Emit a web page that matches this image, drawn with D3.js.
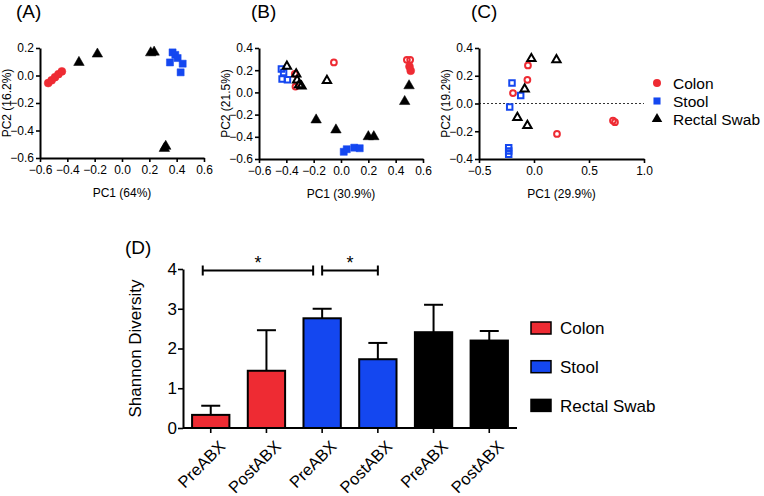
<!DOCTYPE html>
<html><head><meta charset="utf-8">
<script src="https://cdn.jsdelivr.net/npm/d3@7"></script>
<style>
html,body{margin:0;padding:0;background:#fff;}
svg text{font-family:"Liberation Sans",Arial,sans-serif;fill:#000;}
</style></head>
<body><svg id="c" width="764" height="496"></svg>
<script>
// ---------- DATA ----------
const groups = ["Colon", "Stool", "Rectal Swab"];
const groupColors = ["#ee2b33", "#1447f0", "#000000"];

// Panel A (all filled)
const aColon = [[-0.54,-0.055],[-0.515,-0.035],[-0.49,-0.012],[-0.465,0.01],[-0.44,0.03]];
const aStool = [[0.37,0.168],[0.39,0.15],[0.351,0.095],[0.407,0.127],[0.444,0.086],[0.429,0.023]];
const aSwab  = [[-0.315,0.095],[-0.18,0.156],[0.21,0.165],[0.235,0.17],[0.31,-0.53],[0.32,-0.515]];

// Panel B: open (pre) and filled (post)
const bColonOpen   = [[-0.052,0.27],[-0.338,0.168],[-0.333,0.053],[0.482,0.294],[0.506,0.294]];
const bColonFilled = [[0.501,0.234],[0.51,0.195]];
const bStoolOpen   = [[-0.436,0.21],[-0.431,0.12],[-0.392,0.114],[-0.42,0.18]];
const bStoolFilled = [[0.02,-0.535],[0.042,-0.512],[0.097,-0.498],[0.137,-0.503]];
const bSwabOpen    = [[-0.396,0.234],[-0.328,0.165],[-0.321,0.11],[-0.306,0.068],[-0.289,0.056],[-0.103,0.106]];
const bSwabFilled  = [[-0.182,-0.248],[-0.037,-0.338],[0.2,-0.399],[0.24,-0.399],[0.466,-0.082],[0.498,0.06]];

// Panel C (all open)
const cColon = [[-0.055,0.274],[-0.06,0.171],[-0.191,0.075],[0.209,-0.219],[0.718,-0.123],[0.736,-0.135]];
const cStool = [[-0.2,0.147],[-0.121,0.058],[-0.221,-0.026],[-0.23,-0.318],[-0.23,-0.342],[-0.23,-0.366]];
const cSwab  = [[-0.024,0.323],[0.204,0.315],[-0.085,0.104],[-0.151,-0.101],[-0.06,-0.159]];

const pcaTitles = ["(A)", "(B)", "(C)"];
const pcaXLabels = ["PC1 (64%)", "PC1 (30.9%)", "PC1 (29.9%)"];
const pcaYLabels = ["PC2 (16.2%)", "PC2 (21.5%)", "PC2 (19.2%)"];
const xTicksAB = [-0.6,-0.4,-0.2,0.0,0.2,0.4,0.6];
const yTicksA = [0.2,0.0,-0.2,-0.4,-0.6];
const yTicksB = [0.4,0.2,0.0,-0.2,-0.4,-0.6];
const xTicksC = [-0.5,0.0,0.5,1.0];
const yTicksC = [0.4,0.2,0.0,-0.2,-0.4];

// Panel D
const barLabels = ["PreABX","PostABX","PreABX","PostABX","PreABX","PostABX"];
const barGroup  = [0,0,1,1,2,2];
const barMeans  = [0.33,1.44,2.76,1.73,2.41,2.2];
const barErrTop = [0.56,2.46,3.0,2.14,3.1,2.44];
const yTicksD = [0,1,2,3,4];
const sigPairs = [[0,2],[2,3]];
const sigLabels = ["*","*"];

// ---------- DRAW ----------
const svg = d3.select("#c");
const fmt = d3.format(".1f");

function styleAxis(g){
  g.selectAll("path.domain").attr("stroke","#000").attr("stroke-width",2);
  g.selectAll(".tick line").attr("stroke","#000").attr("stroke-width",1.6);
  g.selectAll(".tick text").style("font-family","'Liberation Sans',Arial,sans-serif").attr("fill","#000");
}

function sym(type, filled){
  const size = type===d3.symbolCircle ? (filled?50:26) : type===d3.symbolSquare ? (filled?50:30) : (filled?48:30);
  return d3.symbol().type(type).size(size)();
}
const symTypes = [d3.symbolCircle, d3.symbolSquare, d3.symbolTriangle];

function pcaPanel(cfg){
  const x = d3.scaleLinear().domain(cfg.xd).range([cfg.l, cfg.r]);
  const y = d3.scaleLinear().domain(cfg.yd).range([cfg.b, cfg.t]);
  const g = svg.append("g");
  if(cfg.dash){
    g.append("line").attr("x1",x(cfg.xd[0])).attr("x2",x(cfg.xd[1]))
      .attr("y1",y(0)).attr("y2",y(0)).attr("stroke","#000").attr("stroke-width",0.8)
      .attr("stroke-dasharray","2,2");
  }
  const xa = g.append("g").attr("transform",`translate(0,${cfg.b})`)
    .call(d3.axisBottom(x).tickValues(cfg.xt).tickFormat(fmt).tickSize(4).tickSizeOuter(0).tickPadding(2));
  const ya = g.append("g").attr("transform",`translate(${cfg.l},0)`)
    .call(d3.axisLeft(y).tickValues(cfg.yt).tickFormat(fmt).tickSize(4).tickSizeOuter(0).tickPadding(2));
  [xa,ya].forEach(a=>{styleAxis(a); a.selectAll(".tick text").attr("font-size",12);});
  xa.selectAll(".tick text").attr("dy","0.85em");
  // series
  cfg.series.forEach(s=>{
    g.selectAll(null).data(s.pts).enter().append("path")
      .attr("d", sym(symTypes[s.g], s.filled))
      .attr("transform", d=>`translate(${x(d[0])},${y(d[1])})`)
      .attr("fill", s.filled ? groupColors[s.g] : "#fff")
      .attr("fill-opacity", s.filled?1:0)
      .attr("stroke", groupColors[s.g])
      .attr("stroke-width", s.filled?0.5:2);
  });
  g.append("text").attr("x",(cfg.l+cfg.r)/2).attr("y",cfg.b+39).attr("text-anchor","middle")
    .attr("font-size",12).text(cfg.xl);
  g.append("text").attr("transform",`translate(${cfg.yx},${(cfg.t+cfg.b)/2}) rotate(-90)`)
    .attr("text-anchor","middle").attr("font-size",12).text(cfg.yl);
  g.append("text").attr("x",cfg.tx).attr("y",18).attr("font-size",19).text(cfg.title);
}

pcaPanel({l:40,r:204,t:48,b:158,xd:[-0.6,0.6],yd:[-0.6,0.2],xt:xTicksAB,yt:yTicksA,
  xl:pcaXLabels[0],yl:pcaYLabels[0],yx:11,tx:16,title:pcaTitles[0],
  series:[{pts:aColon,g:0,filled:true},{pts:aStool,g:1,filled:true},{pts:aSwab,g:2,filled:true}]});
pcaPanel({l:259,r:423,t:48,b:159,xd:[-0.6,0.6],yd:[-0.6,0.4],xt:xTicksAB,yt:yTicksB,
  xl:pcaXLabels[1],yl:pcaYLabels[1],yx:230,tx:251,title:pcaTitles[1],
  series:[{pts:bColonOpen,g:0,filled:false},{pts:bColonFilled,g:0,filled:true},
          {pts:bStoolOpen,g:1,filled:false},{pts:bStoolFilled,g:1,filled:true},
          {pts:bSwabOpen,g:2,filled:false},{pts:bSwabFilled,g:2,filled:true}]});
pcaPanel({l:479,r:644,t:48,b:159,xd:[-0.5,1.0],yd:[-0.4,0.4],xt:xTicksC,yt:yTicksC,dash:true,
  xl:pcaXLabels[2],yl:pcaYLabels[2],yx:450,tx:471,title:pcaTitles[2],
  series:[{pts:cColon,g:0,filled:false},{pts:cStool,g:1,filled:false},{pts:cSwab,g:2,filled:false}]});

// legend for scatter
const lg = svg.append("g");
groups.forEach((name,i)=>{
  lg.append("path").attr("d", sym(symTypes[i], true))
    .attr("transform",`translate(657,${83+i*18})`).attr("fill",groupColors[i]);
  lg.append("text").attr("x",673).attr("y",83+i*18).attr("dy","0.36em")
    .attr("font-size",15.5).text(name);
});

// ---------- Panel D ----------
const xD = d3.scaleBand().domain(d3.range(barMeans.length)).range([183,517]).paddingInner(0.33).paddingOuter(0.163);
const yD = d3.scaleLinear().domain([0,4]).range([428,269]);
const gD = svg.append("g");

// error bars (upward only)
gD.selectAll(null).data(barMeans).enter().append("line")
  .attr("x1",(d,i)=>xD(i)+xD.bandwidth()/2).attr("x2",(d,i)=>xD(i)+xD.bandwidth()/2)
  .attr("y1",d=>yD(d)).attr("y2",(d,i)=>yD(barErrTop[i])).attr("stroke","#000").attr("stroke-width",2);
gD.selectAll(null).data(barErrTop).enter().append("line")
  .attr("x1",(d,i)=>xD(i)+xD.bandwidth()/2-9.5).attr("x2",(d,i)=>xD(i)+xD.bandwidth()/2+9.5)
  .attr("y1",d=>yD(d)).attr("y2",d=>yD(d)).attr("stroke","#000").attr("stroke-width",2);
// bars
gD.selectAll(null).data(barMeans).enter().append("rect")
  .attr("x",(d,i)=>xD(i)).attr("width",xD.bandwidth())
  .attr("y",d=>yD(d)).attr("height",d=>yD(0)-yD(d))
  .attr("fill",(d,i)=>groupColors[barGroup[i]]).attr("stroke","#000").attr("stroke-width",2);

const xaD = gD.append("g").attr("transform",`translate(0,${yD(0)})`)
  .call(d3.axisBottom(xD).tickFormat(i=>barLabels[i]).tickSize(5).tickSizeOuter(0));
xaD.select("path.domain").attr("d",`M183,0H517`);
styleAxis(xaD);
xaD.selectAll(".tick text").attr("font-size",16.5).attr("text-anchor","end")
  .attr("dy","0.5em").attr("transform","translate(4,8) rotate(-45)");
const yaD = gD.append("g").attr("transform",`translate(183,0)`)
  .call(d3.axisLeft(yD).tickValues(yTicksD).tickFormat(d3.format("d")).tickSize(5).tickSizeOuter(0).tickPadding(1));
styleAxis(yaD);
yaD.selectAll(".tick text").attr("font-size",17);

// significance brackets
const cx = i=>xD(i)+xD.bandwidth()/2;
const sigY = 270.5;
sigPairs.forEach((p,k)=>{
  const x1 = k===0 ? cx(p[0])-8 : cx(p[0]);
  const x2 = k===0 ? cx(p[1])-9 : cx(p[1]);
  gD.append("line").attr("x1",x1).attr("x2",x2).attr("y1",sigY).attr("y2",sigY).attr("stroke","#000").attr("stroke-width",2);
  [x1,x2].forEach(xx=>gD.append("line").attr("x1",xx).attr("x2",xx).attr("y1",sigY-5).attr("y2",sigY+5).attr("stroke","#000").attr("stroke-width",2));
  gD.append("text").attr("x",(x1+x2)/2).attr("y",sigY-2).attr("text-anchor","middle").attr("font-size",18).text(sigLabels[k]);
});

gD.append("text").attr("transform",`translate(141,${(269+428)/2}) rotate(-90)`)
  .attr("text-anchor","middle").attr("font-size",17).text("Shannon Diversity");
gD.append("text").attr("x",125).attr("y",254).attr("font-size",19).text("(D)");

// legend D
groups.forEach((name,i)=>{
  gD.append("rect").attr("x",531).attr("y",322+i*38.7).attr("width",20).attr("height",12)
    .attr("fill",groupColors[i]).attr("stroke","#000").attr("stroke-width",1.5);
  gD.append("text").attr("x",560).attr("y",328+i*38.7).attr("dy","0.36em").attr("font-size",17).text(name);
});
</script></body></html>
